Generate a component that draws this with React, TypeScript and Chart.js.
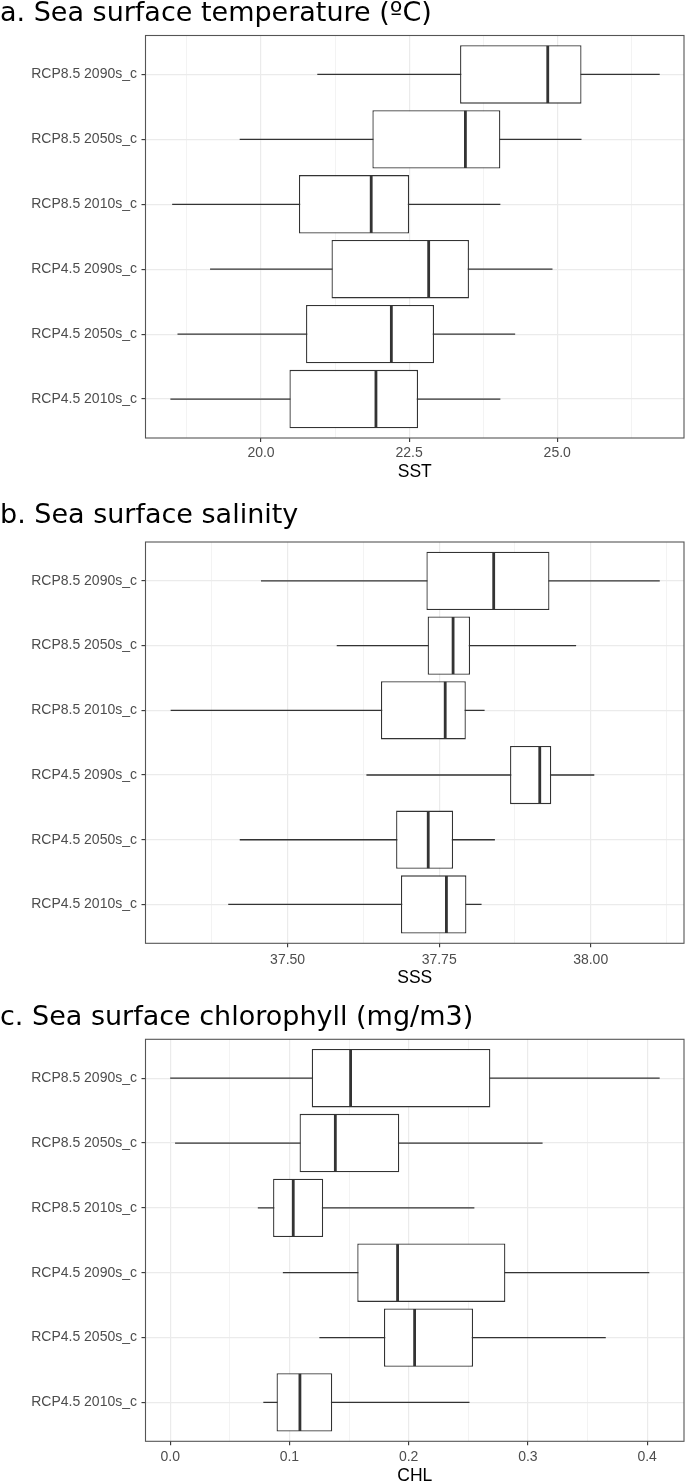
import React, { useEffect, useRef } from "react";
import { Chart, registerables } from "chart.js";

Chart.register(...registerables);

// ---------- data ----------
const categories = [
  "RCP8.5 2090s_c",
  "RCP8.5 2050s_c",
  "RCP8.5 2010s_c",
  "RCP4.5 2090s_c",
  "RCP4.5 2050s_c",
  "RCP4.5 2010s_c",
];

// a. Sea surface temperature
const sstLow = [20.95, 19.64, 18.5, 19.14, 18.59, 18.47];
const sstQ1 = [23.36, 21.88, 20.64, 21.19, 20.76, 20.48];
const sstMedian = [24.84, 23.45, 21.86, 22.83, 22.2, 21.94];
const sstQ3 = [25.41, 24.04, 22.5, 23.51, 22.92, 22.65];
const sstHigh = [26.73, 25.41, 24.04, 24.92, 24.29, 24.04];
const sstMajorTicks = [20.0, 22.5, 25.0];
const sstMinorTicks = [18.75, 21.25, 23.75, 26.25];
const sstRange = [18.05, 27.14];

// b. Sea surface salinity
const sssLow = [37.456, 37.581, 37.307, 37.63, 37.421, 37.402];
const sssQ1 = [37.729, 37.731, 37.654, 37.867, 37.679, 37.687];
const sssMedian = [37.84, 37.773, 37.76, 37.916, 37.732, 37.762];
const sssQ3 = [37.932, 37.801, 37.794, 37.935, 37.773, 37.795];
const sssHigh = [38.114, 37.976, 37.825, 38.006, 37.842, 37.82];
const sssMajorTicks = [37.5, 37.75, 38.0];
const sssMinorTicks = [37.375, 37.625, 37.875, 38.125];
const sssRange = [37.2655, 38.154];

// c. Sea surface chlorophyll
const chlLow = [0.0, 0.0041, 0.0735, 0.0945, 0.1251, 0.0781];
const chlQ1 = [0.1187, 0.1085, 0.0863, 0.1569, 0.1793, 0.0892];
const chlMedian = [0.1513, 0.1385, 0.1032, 0.1907, 0.205, 0.1088];
const chlQ3 = [0.2685, 0.1921, 0.1283, 0.2811, 0.254, 0.1359];
const chlHigh = [0.4105, 0.3123, 0.2551, 0.4018, 0.3653, 0.251];
const chlMajorTicks = [0.0, 0.1, 0.2, 0.3, 0.4];
const chlMinorTicks = [0.05, 0.15, 0.25, 0.35];
const chlRange = [-0.0207, 0.4309];

// ---------- styling ----------
const TITLE_FONT = "'DejaVu Sans', Verdana, sans-serif";
const AXIS_FONT = "'Liberation Sans', Arial, sans-serif";
const INK = "#333333";
const GRID = "#ebebeb";

type Layout = {
  top: number;
  height: number;
  titlePadTop: number;
  titlePadBottom: number;
  axisHeight: number;
  axisTitlePad: number;
  tickPad: number;
};

type Spec = {
  title: string;
  axisTitle: string;
  low: number[];
  q1: number[];
  median: number[];
  q3: number[];
  high: number[];
  major: number[];
  minor: number[];
  range: number[];
  decimals: number;
  layout: Layout;
};

const panels: Spec[] = [
  {
    title: "a. Sea surface temperature (\u00baC)",
    axisTitle: "SST",
    low: sstLow,
    q1: sstQ1,
    median: sstMedian,
    q3: sstQ3,
    high: sstHigh,
    major: sstMajorTicks,
    minor: sstMinorTicks,
    range: sstRange,
    decimals: 1,
    layout: { top: 0, height: 500, titlePadTop: 0.5, titlePadBottom: 8, axisHeight: 62, axisTitlePad: 17, tickPad: 3 },
  },
  {
    title: "b. Sea surface salinity",
    axisTitle: "SSS",
    low: sssLow,
    q1: sssQ1,
    median: sssMedian,
    q3: sssQ3,
    high: sssHigh,
    major: sssMajorTicks,
    minor: sssMinorTicks,
    range: sssRange,
    decimals: 2,
    layout: { top: 494, height: 500, titlePadTop: 8.5, titlePadBottom: 12.5, axisHeight: 50.7, axisTitlePad: 5, tickPad: 4 },
  },
  {
    title: "c. Sea surface chlorophyll (mg/m3)",
    axisTitle: "CHL",
    low: chlLow,
    q1: chlQ1,
    median: chlMedian,
    q3: chlQ3,
    high: chlHigh,
    major: chlMajorTicks,
    minor: chlMinorTicks,
    range: chlRange,
    decimals: 1,
    layout: { top: 988, height: 500, titlePadTop: 16, titlePadBottom: 8.3, axisHeight: 46.7, axisTitlePad: 1.7, tickPad: 3.7 },
  },
];

function isMajor(spec: Spec, v: number) {
  return spec.major.some((m) => Math.abs(m - v) < 1e-9);
}

function makeBoxPlugin(spec: Spec) {
  return {
    id: "boxStats",
    beforeDatasetsDraw(chart: any) {
      const { ctx } = chart;
      const xs = chart.scales.x;
      const ys = chart.scales.y;
      ctx.save();
      ctx.strokeStyle = INK;
      ctx.lineWidth = 1.3;
      spec.low.forEach((lo, i) => {
        const py = ys.getPixelForValue(i);
        ctx.beginPath();
        ctx.moveTo(xs.getPixelForValue(lo), py);
        ctx.lineTo(xs.getPixelForValue(spec.high[i]), py);
        ctx.stroke();
      });
      ctx.restore();
    },
    afterDatasetsDraw(chart: any) {
      const { ctx } = chart;
      const xs = chart.scales.x;
      const meta = chart.getDatasetMeta(0);
      ctx.save();
      ctx.strokeStyle = INK;
      ctx.lineWidth = 2.8;
      meta.data.forEach((bar: any, i: number) => {
        const { y, height } = bar.getProps(["y", "height"], true);
        const px = xs.getPixelForValue(spec.median[i]);
        ctx.beginPath();
        ctx.moveTo(px, y - height / 2 + 0.6);
        ctx.lineTo(px, y + height / 2 - 0.6);
        ctx.stroke();
      });
      const { left, top, right, bottom } = chart.chartArea;
      ctx.strokeStyle = "#555555";
      ctx.lineWidth = 1.1;
      ctx.strokeRect(left, top, right - left, bottom - top);
      ctx.restore();
    },
  };
}

function Panel({ spec }: { spec: Spec }) {
  const ref = useRef<HTMLCanvasElement>(null);
  useEffect(() => {
    const L = spec.layout;
    const chart = new Chart(ref.current as HTMLCanvasElement, {
      type: "bar",
      data: {
        datasets: [
          {
            data: categories.map((_, i) => ({ x: [spec.q1[i], spec.q3[i]], y: i })) as any,
            backgroundColor: "#ffffff",
            borderColor: INK,
            borderWidth: 1.3,
            borderSkipped: false,
            categoryPercentage: 1,
            barPercentage: 0.9,
          },
        ],
      },
      options: {
        indexAxis: "y",
        animation: false,
        responsive: false,
        events: [],
        layout: { padding: { left: 0, right: 1, top: 0, bottom: 0 } },
        plugins: {
          legend: { display: false },
          tooltip: { enabled: false },
          title: {
            display: true,
            text: spec.title,
            align: "start",
            color: "#000000",
            font: { family: TITLE_FONT, size: 27, weight: "normal", lineHeight: 1 },
            padding: { top: L.titlePadTop, bottom: L.titlePadBottom },
          },
        },
        scales: {
          x: {
            type: "linear",
            min: spec.range[0],
            max: spec.range[1],
            afterBuildTicks: (axis: any) => {
              axis.ticks = [...spec.major, ...spec.minor]
                .sort((a, b) => a - b)
                .map((v) => ({ value: v }));
            },
            afterFit: (axis: any) => {
              axis.height = L.axisHeight;
            },
            ticks: {
              autoSkip: false,
              maxRotation: 0,
              padding: L.tickPad,
              color: "#4d4d4d",
              font: { family: AXIS_FONT, size: 14 },
              callback: (v: any) => (isMajor(spec, Number(v)) ? Number(v).toFixed(spec.decimals) : ""),
            },
            grid: {
              color: GRID,
              lineWidth: (ctx: any) => (ctx.tick && isMajor(spec, ctx.tick.value) ? 1.2 : 0.6),
              tickLength: 4,
              tickWidth: 1.1,
              tickColor: (ctx: any) =>
                ctx.tick && isMajor(spec, ctx.tick.value) ? INK : "rgba(0,0,0,0)",
            },
            border: { display: false },
            title: {
              display: true,
              text: spec.axisTitle,
              color: "#000000",
              font: { family: AXIS_FONT, size: 17.5 },
              padding: { top: 0, bottom: L.axisTitlePad },
            },
          },
          y: {
            type: "linear",
            reverse: true,
            offset: false,
            min: -0.6,
            max: 5.6,
            afterBuildTicks: (axis: any) => {
              axis.ticks = categories.map((_, i) => ({ value: i }));
            },
            afterFit: (axis: any) => {
              axis.width = 145.5;
            },
            ticks: {
              autoSkip: false,
              padding: 4.5,
              color: "#4d4d4d",
              font: { family: AXIS_FONT, size: 14 },
              callback: (v: any) => categories[Number(v)] ?? "",
            },
            grid: {
              offset: false,
              color: GRID,
              lineWidth: 1.2,
              tickLength: 4,
              tickWidth: 1.1,
              tickColor: INK,
            },
            border: { display: false },
          },
        },
      } as any,
      plugins: [makeBoxPlugin(spec)],
    });
    return () => chart.destroy();
  }, [spec]);

  return (
    <div
      style={{
        position: "absolute",
        left: 0,
        top: spec.layout.top,
        width: 685,
        height: spec.layout.height,
      }}
    >
      <canvas ref={ref} width={685} height={spec.layout.height} style={{ display: "block" }} />
    </div>
  );
}

export default function App() {
  return (
    <div
      style={{
        position: "absolute",
        left: 0,
        top: 0,
        width: 685,
        height: 1482,
        overflow: "hidden",
        background: "#ffffff",
      }}
    >
      {panels.map((p) => (
        <Panel key={p.title} spec={p} />
      ))}
    </div>
  );
}
